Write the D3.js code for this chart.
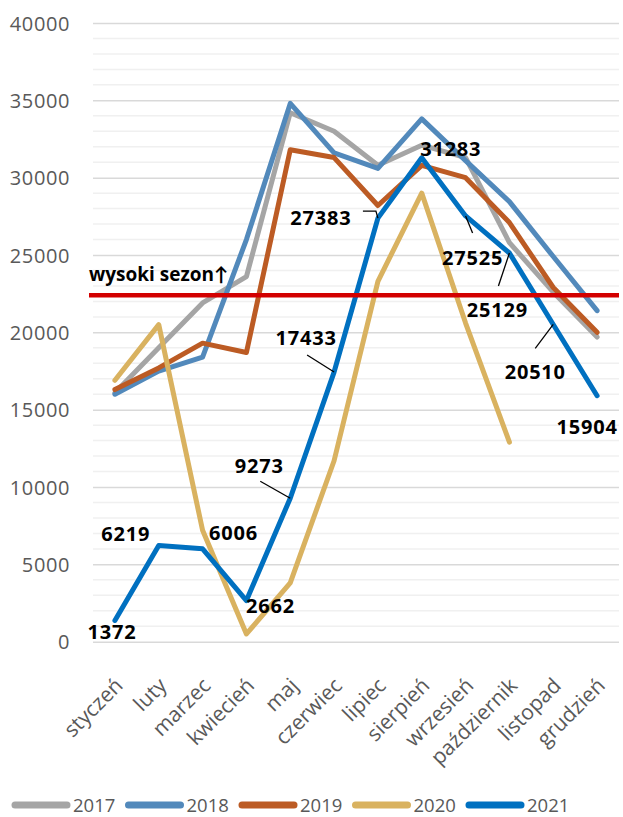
<!DOCTYPE html>
<html>
<head>
<meta charset="utf-8">
<script src="https://cdn.jsdelivr.net/npm/d3@7"></script>
<style>
  body { margin: 0; background: #fff; }
  svg { display: block; font-family: "Open Sans", Lato, sans-serif; }
</style>
</head>
<body>
<div id="chart"></div>
<script>
// Data
const months = ["styczeń", "luty", "marzec", "kwiecień", "maj", "czerwiec",
    "lipiec", "sierpień", "wrzesień", "październik", "listopad", "grudzień"];
const years = ["2017", "2018", "2019", "2020", "2021"];
const v2017 = [16100, 19000, 21900, 23600, 34200, 33000, 30800, 32100, 31300, 25800, 22600, 19700];
const v2018 = [16000, 17500, 18400, 26000, 34800, 31600, 30600, 33800, 31100, 28450, 24900, 21400];
const v2019 = [16300, 17700, 19300, 18700, 31800, 31300, 28200, 30800, 30000, 27100, 22900, 20000];
const v2020 = [16900, 20500, 7200, 500, 3800, 11700, 23300, 29000, 20600, 12900];
const v2021 = [1372, 6219, 6006, 2662, 9273, 17433, 27383, 31283, 27525, 25129, 20510, 15904];
const yTicks = [0, 5000, 10000, 15000, 20000, 25000, 30000, 35000, 40000];
const highSeason = 22400;
const highSeasonLabel = "wysoki sezon↑";

// Layout
const config = {
    width: 623,
    height: 817,
    plot: { left: 93, right: 619, top: 23, bottom: 641.7 },
    colors: {
        "2017": "#A5A5A5",
        "2018": "#5289BB",
        "2019": "#BC5B24",
        "2020": "#D9B260",
        "2021": "#0070C0"
    },
    axisText: "#595959"
};

// label placement for 2021 (offset of text centre from point, optional leader)
const labelPlacement = [
    { dx: -3, dy: 12 },
    { dx: -33, dy: -12 },
    { dx: 31, dy: -16 },
    { dx: 24, dy: 5 },
    { dx: -31, dy: -32, leader: [[-30, -17], [0, 0]] },
    { dx: -28, dy: -34, leader: [[-27, -17], [0, 0]] },
    { dx: -57, dy: 0, leader: [[-15, -7], [-2, -7], [0, 0]] },
    { dx: 29, dy: -9 },
    { dx: 7, dy: 42, leader: [[0, 0], [7, 17]] },
    { dx: -12, dy: 57, leader: [[0, 0], [-11, 33]] },
    { dx: -18, dy: 48, leader: [[0, 0], [-18, 24]] },
    { dx: -10, dy: 31 }
];

const seriesValues = { "2017": v2017, "2018": v2018, "2019": v2019, "2020": v2020, "2021": v2021 };

const svg = d3.select("#chart").append("svg")
    .attr("width", config.width)
    .attr("height", config.height);

const p = config.plot;

const x = d3.scalePoint()
    .domain(months)
    .range([p.left, p.right])
    .padding(0.5);

const y = d3.scaleLinear()
    .domain([0, 40000])
    .range([p.bottom, p.top]);

// Minor gridlines every 1000
svg.append("g")
    .selectAll("line")
    .data(d3.range(1000, 40000, 1000).filter(d => d % 5000 !== 0))
    .join("line")
    .attr("x1", p.left).attr("x2", p.right)
    .attr("y1", d => y(d)).attr("y2", d => y(d))
    .attr("stroke", "#F0F0F0")
    .attr("stroke-width", 1.5);

// Major gridlines + tick labels via axis
const yAxis = svg.append("g")
    .attr("transform", `translate(${p.left},0)`)
    .call(d3.axisLeft(y).tickValues(yTicks).tickSize(-(p.right - p.left)).tickPadding(23).tickFormat(d3.format("d")));
yAxis.select(".domain").remove();
yAxis.selectAll(".tick line").attr("stroke", "#D9D9D9").attr("stroke-width", 1.5);
yAxis.selectAll(".tick text")
    .attr("fill", config.axisText)
    .attr("font-size", "20px")
    .attr("font-family", "'Open Sans', sans-serif")
    .attr("letter-spacing", "0.6px")
    .attr("dy", "0.36em");

// X axis labels (rotated)
svg.append("g")
    .selectAll("text")
    .data(months)
    .join("text")
    .attr("transform", d => `translate(${x(d) + 4},${p.bottom + 40}) rotate(-45)`)
    .attr("text-anchor", "end")
    .attr("dy", "0.35em")
    .attr("fill", config.axisText)
    .attr("font-size", "21px")
    .text(d => d);

// Series lines
const line = d3.line()
    .x((d, i) => x(months[i]))
    .y(d => y(d));

svg.append("g")
    .selectAll("path")
    .data(years)
    .join("path")
    .attr("d", yr => line(seriesValues[yr]))
    .attr("fill", "none")
    .attr("stroke", yr => config.colors[yr])
    .attr("stroke-width", 5)
    .attr("stroke-linejoin", "round")
    .attr("stroke-linecap", "round");

// High season red line with glow
const defs = svg.append("defs");
defs.append("filter")
    .attr("id", "glow")
    .attr("x", "-5%").attr("y", "-300%")
    .attr("width", "110%").attr("height", "700%")
    .append("feGaussianBlur")
    .attr("stdDeviation", 2);

const redG = svg.append("g");
redG.append("line")
    .attr("x1", 88).attr("x2", 620)
    .attr("y1", y(highSeason)).attr("y2", y(highSeason))
    .attr("stroke", "#E02828")
    .attr("stroke-opacity", 0.75)
    .attr("stroke-width", 10)
    .attr("filter", "url(#glow)");
redG.append("line")
    .attr("x1", 89).attr("x2", 619)
    .attr("y1", y(highSeason)).attr("y2", y(highSeason))
    .attr("stroke", "#D30000")
    .attr("stroke-width", 4.5);

svg.append("text")
    .attr("x", 89)
    .attr("y", y(highSeason) - 14)
    .attr("font-size", "19px")
    .attr("font-weight", "bold")
    .attr("fill", "#000")
    .text(highSeasonLabel);

// 2021 data labels
const labels = svg.append("g");
v2021.forEach((v, i) => {
    const px = x(months[i]);
    const py = y(v);
    const lp = labelPlacement[i];
    if (lp.leader) {
        labels.append("path")
            .attr("d", d3.line()(lp.leader.map(([a, b]) => [px + a, py + b])))
            .attr("fill", "none")
            .attr("stroke", "#000")
            .attr("stroke-width", 1.3);
    }
    labels.append("text")
        .attr("x", px + lp.dx)
        .attr("y", py + lp.dy)
        .attr("text-anchor", "middle")
        .attr("dy", "0.35em")
        .attr("font-size", "20px")
        .attr("font-weight", "bold")
        .attr("letter-spacing", "0.8px")
        .attr("fill", "#000")
        .text(v);
});

// Legend
const legend = svg.append("g")
    .attr("transform", "translate(12,805)");
const item = legend.selectAll("g")
    .data(years)
    .join("g")
    .attr("transform", (d, i) => `translate(${i * 113.5},0)`);
item.append("line")
    .attr("x1", 3).attr("x2", 55)
    .attr("stroke", d => config.colors[d])
    .attr("stroke-width", 7)
    .attr("stroke-linecap", "round");
item.append("text")
    .attr("x", 61)
    .attr("dy", "0.36em")
    .attr("font-size", "18.5px")
    .attr("fill", config.axisText)
    .text(d => d);
</script>
</body>
</html>
